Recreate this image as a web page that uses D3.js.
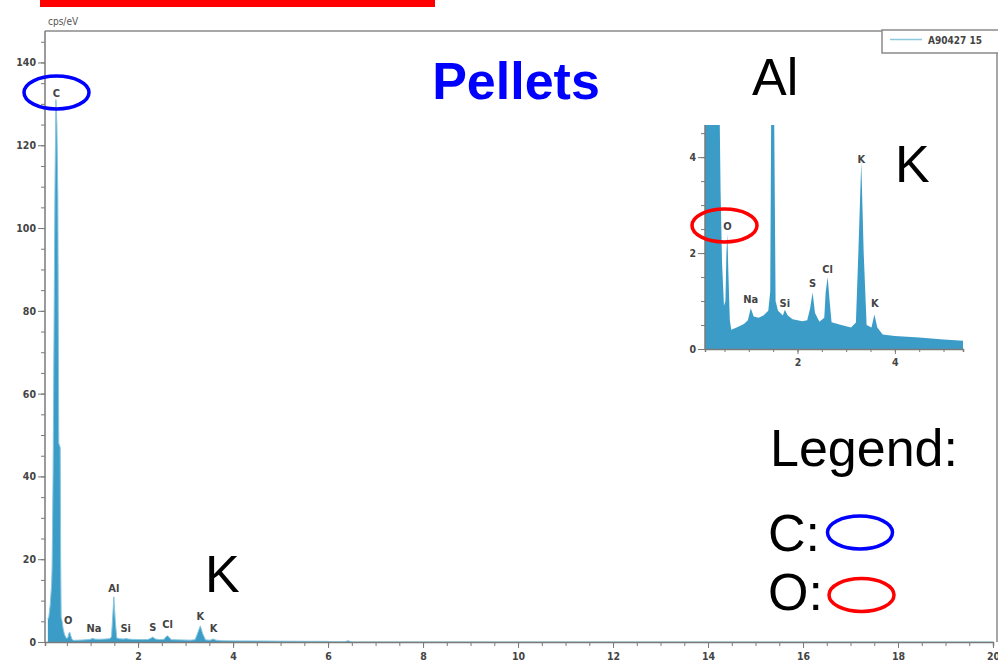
<!DOCTYPE html>
<html>
<head>
<meta charset="utf-8">
<script src="https://cdn.jsdelivr.net/npm/d3@7"></script>
<style>
  html, body { margin: 0; padding: 0; background: #fff; }
  svg { display: block; }
</style>
</head>
<body>
<svg id="chart" width="998" height="667"></svg>
<script>
// EDS spectrum of the pellet sample: energy (keV) and intensity (cps/eV)
const energyKeV = [
  0.10, 0.12, 0.15, 0.18, 0.19, 0.21, 0.25, 0.27, 0.29, 0.31, 0.33, 0.36, 0.37, 0.38, 0.40,
  0.42, 0.45, 0.49, 0.52, 0.54, 0.56, 0.58, 0.61, 0.64, 0.75, 0.90, 0.98, 1.04, 1.10, 1.20,
  1.30, 1.40, 1.44, 1.46, 1.49, 1.52, 1.55, 1.60, 1.70, 1.74, 1.80, 1.90, 2.10, 2.20, 2.26,
  2.31, 2.36, 2.45, 2.55, 2.58, 2.62, 2.66, 2.70, 2.90, 3.10, 3.20, 3.25, 3.31, 3.36, 3.42,
  3.52, 3.58, 3.64, 3.75, 4.00, 4.50, 5.00, 5.40, 6.00, 6.05, 6.35, 6.42, 6.50, 20.0
];
const countsPerEV = [
  5.5, 6.0, 9.0, 14.0, 18.0, 40.0, 110.0, 131.0, 125.0, 108.0, 48.0, 47.0, 20.0, 6.0, 5.0,
  3.3, 1.8, 0.9, 1.0, 2.0, 2.4, 1.6, 0.6, 0.4, 0.45, 0.52, 0.6, 0.85, 0.68, 0.65,
  0.7, 0.8, 1.2, 5.0, 10.9, 5.0, 1.0, 0.8, 0.7, 0.82, 0.7, 0.62, 0.58, 0.6, 0.85,
  1.18, 0.75, 0.57, 0.65, 1.2, 1.5, 1.0, 0.56, 0.5, 0.45, 0.55, 2.0, 3.9, 2.0, 0.5,
  0.45, 0.72, 0.45, 0.3, 0.27, 0.24, 0.2, 0.17, 0.15, 0.05, 0.05, 0.3, 0.02, 0.0
];

// Axis ticks
const mainXLabels = [2, 4, 6, 8, 10, 12, 14, 16, 18, 20];
const mainYLabels = [0, 20, 40, 60, 80, 100, 120, 140];
const insetXLabels = [2, 4];
const insetYLabels = [0, 2, 4];

// Element peaks: name, line energy (keV)
const peakNames    = ["C", "O", "Na", "Al", "Si", "S", "Cl", "K", "K"];
const peakEnergies = [0.28, 0.53, 1.07, 1.49, 1.74, 2.31, 2.62, 3.31, 3.59];
const insetPeakNames    = ["O", "Na", "Si", "S", "Cl", "K", "K"];
const insetPeakEnergies = [0.56, 1.04, 1.74, 2.31, 2.62, 3.31, 3.59];

const seriesName = "A90427 15";

const spectrum = energyKeV.map((e, i) => ({ e, v: countsPerEV[i] }));
const svg = d3.select("#chart");

const fillColor = "#3b9cc8";
const edgeColor = "#86c6de";
const axisColor = "#7a7a7a";
const tickFont = "'DejaVu Sans Condensed', 'DejaVu Sans', sans-serif";

// ---------- main spectrum ----------
const x = d3.scaleLinear().domain([0.04, 20]).range([45, 993]);
const y = d3.scaleLinear().domain([0, 147.6]).range([642, 31]);

svg.append("defs").append("clipPath").attr("id", "mainClip")
  .append("rect").attr("x", 45).attr("y", 31).attr("width", 952).attr("height", 611);

const area = d3.area().x(d => x(d.e)).y0(y(0)).y1(d => y(d.v));
const line = d3.line().x(d => x(d.e)).y(d => y(d.v));

const gMain = svg.append("g").attr("clip-path", "url(#mainClip)");
gMain.append("path").datum(spectrum).attr("d", area).attr("fill", fillColor);
gMain.append("path").datum(spectrum).attr("d", line)
  .attr("fill", "none").attr("stroke", edgeColor).attr("stroke-width", 1);

// frame (top and right)
svg.append("path")
  .attr("d", `M45,31H997V642`)
  .attr("fill", "none").attr("stroke", "#8a8a8a").attr("stroke-width", 1.5);

function styleAxis(g) {
  g.select(".domain").attr("stroke", axisColor).attr("stroke-width", 1.5);
  g.selectAll(".tick line").attr("stroke", axisColor);
  g.selectAll("text").attr("fill", "#444").attr("font-family", tickFont)
    .attr("font-weight", "bold").attr("font-size", 10.5);
}

// x axis: minor ticks every 0.5 keV, labels on even keV
const xMinor = d3.range(0.5, 20.01, 0.5);
svg.append("g").attr("transform", "translate(0,642)")
  .call(d3.axisBottom(x).tickValues(xMinor).tickSize(4).tickFormat(""))
  .call(styleAxis);
svg.append("g").attr("transform", "translate(0,642)")
  .call(d3.axisBottom(x).tickValues(mainXLabels).tickSize(6).tickPadding(5).tickFormat(d3.format("d")))
  .call(styleAxis)
  .call(g => g.select(".domain").remove());

// y axis: minor ticks every 5 cps/eV
const yMinor = d3.range(0, 146, 5);
svg.append("g").attr("transform", "translate(45,0)")
  .call(d3.axisLeft(y).tickValues(yMinor).tickSize(4).tickFormat(""))
  .call(styleAxis)
  .call(g => g.select(".domain").attr("d", `M0,642V31`));
svg.append("g").attr("transform", "translate(45,0)")
  .call(d3.axisLeft(y).tickValues(mainYLabels).tickSize(7).tickPadding(2).tickFormat(d3.format("d")))
  .call(styleAxis)
  .call(g => g.select(".domain").remove());

svg.append("text").attr("x", 48).attr("y", 25).text("cps/eV")
  .attr("font-family", tickFont).attr("font-size", 10).attr("fill", "#555");

// series legend box
svg.append("rect").attr("x", 882).attr("y", 30).attr("width", 120).attr("height", 23)
  .attr("fill", "#fff").attr("stroke", "#8a8a8a").attr("stroke-width", 1.5);
svg.append("line").attr("x1", 890).attr("x2", 922).attr("y1", 39.5).attr("y2", 39.5)
  .attr("stroke", "#8cc9dc").attr("stroke-width", 1.5);
svg.append("text").attr("x", 928).attr("y", 44).text(seriesName)
  .attr("font-family", tickFont).attr("font-weight", "bold").attr("font-size", 10).attr("fill", "#444");

// peak labels on the main spectrum
const mainLabelYs = [97, 624, 632, 592, 632, 631, 628, 620, 632];
peakNames.forEach((name, i) => {
  svg.append("text")
    .attr("x", x(peakEnergies[i]))
    .attr("y", mainLabelYs[i])
    .attr("text-anchor", "middle")
    .attr("font-family", tickFont).attr("font-weight", "bold").attr("font-size", 11)
    .attr("fill", "#444").text(name);
});

// ---------- inset: zoom on low energies ----------
const xi = d3.scaleLinear().domain([0.1, 5.4]).range([705, 963]);
const yi = d3.scaleLinear().domain([0, 4.67]).range([349, 125]);
svg.append("defs").append("clipPath").attr("id", "insetClip")
  .append("rect").attr("x", 705).attr("y", 125).attr("width", 258).attr("height", 224);

const insetData = spectrum.filter(d => d.e <= 5.4);
const areaI = d3.area().x(d => xi(d.e)).y0(yi(0)).y1(d => yi(d.v));
const gInset = svg.append("g").attr("clip-path", "url(#insetClip)");
gInset.append("path").datum(insetData).attr("d", areaI).attr("fill", fillColor);

svg.append("g").attr("transform", "translate(0,349)")
  .call(d3.axisBottom(xi).tickValues(d3.range(0.5, 5.41, 0.5)).tickSize(3).tickFormat(""))
  .call(styleAxis);
svg.append("g").attr("transform", "translate(0,349)")
  .call(d3.axisBottom(xi).tickValues(insetXLabels).tickSize(5).tickPadding(5).tickFormat(d3.format("d")))
  .call(styleAxis).call(g => g.select(".domain").remove());
svg.append("g").attr("transform", "translate(705,0)")
  .call(d3.axisLeft(yi).tickValues(d3.range(0, 4.6, 0.5)).tickSize(4).tickFormat(""))
  .call(styleAxis)
  .call(g => g.select(".domain").attr("d", `M0,349V125`));
svg.append("g").attr("transform", "translate(705,0)")
  .call(d3.axisLeft(yi).tickValues(insetYLabels).tickSize(7).tickPadding(2).tickFormat(d3.format("d")))
  .call(styleAxis).call(g => g.select(".domain").remove());

const insetLabelYs = [230, 303, 307, 287, 273, 163, 307];
insetPeakNames.forEach((name, i) => {
  svg.append("text")
    .attr("x", xi(insetPeakEnergies[i]))
    .attr("y", insetLabelYs[i])
    .attr("text-anchor", "middle")
    .attr("font-family", tickFont).attr("font-weight", "bold").attr("font-size", 11)
    .attr("fill", "#444").text(name);
});

// ---------- annotations ----------
svg.append("rect").attr("x", 40).attr("y", 0).attr("width", 395).attr("height", 7).attr("fill", "#ff0000");

const bigFont = "'Liberation Sans', Arial, sans-serif";
svg.append("text").attr("x", 516).attr("y", 99).attr("text-anchor", "middle")
  .attr("font-family", bigFont).attr("font-weight", "bold").attr("font-size", 52)
  .attr("fill", "#0000ff").text("Pellets");

const bigLabels = [
  { t: "Al", x: 752, y: 95 },
  { t: "K", x: 895, y: 182 },
  { t: "K", x: 205, y: 592 },
  { t: "Legend:", x: 770, y: 466 },
  { t: "C:", x: 768, y: 551 },
  { t: "O:", x: 768, y: 610 }
];
bigLabels.forEach(d => {
  svg.append("text").attr("x", d.x).attr("y", d.y)
    .attr("font-family", bigFont).attr("font-size", 52).attr("fill", "#000").text(d.t);
});

const ellipses = [
  { cx: 56.5, cy: 92.5, c: "#0000ff" },
  { cx: 724.5, cy: 225.5, c: "#ff0000" },
  { cx: 860, cy: 532.5, c: "#0000ff" },
  { cx: 861.5, cy: 595, c: "#ff0000" }
];
ellipses.forEach(d => {
  svg.append("ellipse").attr("cx", d.cx).attr("cy", d.cy).attr("rx", 32.5).attr("ry", 16.5)
    .attr("fill", "none").attr("stroke", d.c).attr("stroke-width", 3.5);
});
</script>
</body>
</html>
